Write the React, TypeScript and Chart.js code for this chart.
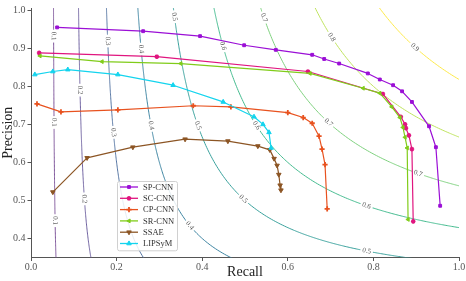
import React, { useEffect, useRef } from 'react';
import { Chart, registerables } from 'chart.js';
import { drawPoint } from 'chart.js/helpers';

Chart.register(...registerables);

// ---------- data ----------
const SERIES_NAMES = ['SP-CNN', 'SC-CNN', 'CP-CNN', 'SR-CNN', 'SSAE', 'LIPSyM'];

const SP_CNN_RECALL = [0.061, 0.262, 0.395, 0.498, 0.572, 0.657, 0.685, 0.720, 0.787, 0.815, 0.846, 0.867, 0.890, 0.930, 0.946, 0.956];
const SP_CNN_PRECISION = [0.955, 0.945, 0.932, 0.908, 0.896, 0.883, 0.872, 0.860, 0.834, 0.818, 0.803, 0.787, 0.759, 0.695, 0.640, 0.486];

const SC_CNN_RECALL = [0.019, 0.294, 0.647, 0.822, 0.864, 0.874, 0.876, 0.883, 0.890, 0.893];
const SC_CNN_PRECISION = [0.888, 0.878, 0.839, 0.780, 0.720, 0.700, 0.690, 0.671, 0.635, 0.445];

const CP_CNN_RECALL = [0.014, 0.070, 0.203, 0.379, 0.467, 0.600, 0.636, 0.657, 0.673, 0.680, 0.687, 0.692];
const CP_CNN_PRECISION = [0.754, 0.733, 0.738, 0.749, 0.746, 0.731, 0.718, 0.703, 0.669, 0.635, 0.594, 0.478];

const SR_CNN_RECALL = [0.021, 0.166, 0.350, 0.652, 0.776, 0.815, 0.843, 0.862, 0.869, 0.874, 0.879, 0.881];
const SR_CNN_PRECISION = [0.880, 0.865, 0.860, 0.834, 0.795, 0.782, 0.746, 0.718, 0.692, 0.666, 0.638, 0.450];

const SSAE_RECALL = [0.051, 0.131, 0.238, 0.360, 0.460, 0.530, 0.558, 0.568, 0.575, 0.579, 0.582, 0.584];
const SSAE_PRECISION = [0.522, 0.612, 0.640, 0.661, 0.656, 0.643, 0.633, 0.610, 0.592, 0.568, 0.540, 0.527];

const LIPSYM_RECALL = [0.009, 0.051, 0.086, 0.203, 0.332, 0.449, 0.521, 0.542, 0.556, 0.561];
const LIPSYM_PRECISION = [0.831, 0.839, 0.844, 0.831, 0.803, 0.759, 0.720, 0.700, 0.679, 0.638];

const X_TICKS = [0.0, 0.2, 0.4, 0.6, 0.8, 1.0];
const Y_TICKS = [0.4, 0.5, 0.6, 0.7, 0.8, 0.9, 1.0];

// iso-F1 levels and where their inline labels sit (given by precision)
const F_LEVELS = [0.1, 0.2, 0.3, 0.4, 0.5, 0.6, 0.7, 0.8, 0.9];
const F_LABEL_PRECISIONS = [
  [0.932, 0.705, 0.447],
  [0.79, 0.504],
  [0.919, 0.679],
  [0.898, 0.697, 0.434],
  [0.983, 0.697, 0.504, 0.367],
  [0.906, 0.697, 0.486],
  [0.981, 0.705, 0.571],
  [0.929],
  [0.903],
];

// ---------- styles ----------
const SERIES_COLORS = ['#9b0fd6', '#e0157f', '#e8521f', '#80cc1a', '#8c5524', '#14d4ee'];
const SERIES_MARKERS = ['rect', 'star', 'cross', 'triangle', 'triangle', 'triangle'];
const SERIES_MARKER_ROT = [0, 0, 0, 270, 180, 0];
const SERIES_MARKER_R = [2, 2.3, 2.6, 2.2, 2.6, 2.6];
const CONTOUR_COLORS = [
  '#7e559a',
  '#6f62a0',
  '#5676a3',
  '#3f85a2',
  '#3aa19c',
  '#45bb8f',
  '#7fd17f',
  '#bfe35f',
  '#fde94a',
];

const SERIF = '"Liberation Serif", "DejaVu Serif", serif';
const X_MIN = 0, X_MAX = 1.0, Y_MIN = 0.35, Y_MAX = 1.006;

// iso-F1 curve, thinned so neighbouring samples are a few pixels apart
function contourPoints(f: number) {
  const pts: { x: number; y: number }[] = [];
  const N = 2000;
  const pTop = 1.02, pBot = 0.33;
  let last: { x: number; y: number } | null = null;
  for (let k = 0; k <= N; k++) {
    const p = pTop - (k * (pTop - pBot)) / N;
    if (2 * p - f <= 0) break;
    const r = (f * p) / (2 * p - f);
    const pt = { x: r, y: p };
    const done = r > 1.02;
    if (!last || done || Math.hypot((r - last.x) * 430, (p - last.y) * 390) >= 4) {
      pts.push(pt);
      last = pt;
    }
    if (done) break;
  }
  return pts;
}

const contourLabelPlugin = {
  id: 'contourLabels',
  afterDatasetDraw(chart: any, args: any) {
    const ds = chart.data.datasets[args.index];
    if (ds.fLevel === undefined) return;
    const f = ds.fLevel as number;
    const xs = chart.scales.x, ys = chart.scales.y;
    const ctx = chart.ctx as CanvasRenderingContext2D;
    const area = chart.chartArea;
    ctx.save();
    ctx.font = `7px ${SERIF}`;
    ctx.textAlign = 'center';
    ctx.textBaseline = 'middle';
    for (const p of ds.labelPrecisions as number[]) {
      const r = (f * p) / (2 * p - f);
      const px = xs.getPixelForValue(r), py = ys.getPixelForValue(p);
      if (px < area.left || px > area.right || py < area.top || py > area.bottom) continue;
      const dr = 0.002;
      const p2 = (f * (r + dr)) / (2 * (r + dr) - f);
      const qx = xs.getPixelForValue(r + dr), qy = ys.getPixelForValue(p2);
      let ang = Math.atan2(qy - py, qx - px);
      if (ang > Math.PI / 2) ang -= Math.PI;
      if (ang < -Math.PI / 2) ang += Math.PI;
      const txt = f.toFixed(1);
      const w = ctx.measureText(txt).width;
      ctx.save();
      ctx.translate(px, py);
      ctx.rotate(ang);
      ctx.fillStyle = '#ffffff';
      ctx.fillRect(-w / 2 - 2, -3, w + 4, 6);
      ctx.fillStyle = '#555555';
      ctx.fillText(txt, 0, 0);
      ctx.restore();
    }
    ctx.restore();
  },
};

const legendPlugin = {
  id: 'customLegend',
  afterDraw(chart: any) {
    const ctx = chart.ctx as CanvasRenderingContext2D;
    const series = chart.data.datasets.filter((d: any) => d.isSeries);
    const left = 117, top = 181, width = 60, rowH = 11.3;
    const height = series.length * rowH + 1.5;
    ctx.save();
    ctx.beginPath();
    (ctx as any).roundRect(left + 0.5, top + 0.5, width, height, 2);
    ctx.fillStyle = 'rgba(255,255,255,0.85)';
    ctx.fill();
    ctx.strokeStyle = '#d0d0d0';
    ctx.lineWidth = 1;
    ctx.stroke();
    ctx.font = `8.5px ${SERIF}`;
    ctx.textAlign = 'left';
    ctx.textBaseline = 'middle';
    series.forEach((d: any, i: number) => {
      const cy = top + 6 + i * rowH;
      ctx.strokeStyle = d.borderColor;
      ctx.lineWidth = 1.3;
      ctx.beginPath();
      ctx.moveTo(left + 3, cy);
      ctx.lineTo(left + 21, cy);
      ctx.stroke();
      ctx.fillStyle = d.pointBackgroundColor;
      ctx.strokeStyle = d.pointBorderColor;
      ctx.lineWidth = d.pointBorderWidth;
      drawPoint(ctx, { pointStyle: d.pointStyle, rotation: d.pointRotation, radius: d.pointRadius, borderWidth: d.pointBorderWidth }, left + 12, cy);
      ctx.fillStyle = '#333333';
      ctx.fillText(d.label, left + 26, cy + 0.5);
    });
    ctx.restore();
  },
};

export default function App() {
  const ref = useRef<HTMLCanvasElement>(null);

  useEffect(() => {
    if (!ref.current) return;
    const recalls = [SP_CNN_RECALL, SC_CNN_RECALL, CP_CNN_RECALL, SR_CNN_RECALL, SSAE_RECALL, LIPSYM_RECALL];
    const precisions = [SP_CNN_PRECISION, SC_CNN_PRECISION, CP_CNN_PRECISION, SR_CNN_PRECISION, SSAE_PRECISION, LIPSYM_PRECISION];

    const contourSets = F_LEVELS.map((f, i) => ({
      label: `F=${f}`,
      data: contourPoints(f),
      borderColor: CONTOUR_COLORS[i],
      borderWidth: 1,
      borderJoinStyle: 'round',
      tension: 0.2,
      pointRadius: 0,
      showLine: true,
      fill: false,
      order: 20,
      fLevel: f,
      labelPrecisions: F_LABEL_PRECISIONS[i],
    }));

    const seriesSets = SERIES_NAMES.map((name, i) => ({
      label: name,
      data: recalls[i].map((r, k) => ({ x: r, y: precisions[i][k] })),
      borderColor: SERIES_COLORS[i],
      backgroundColor: SERIES_COLORS[i],
      pointBackgroundColor: SERIES_COLORS[i],
      pointBorderColor: SERIES_COLORS[i],
      pointStyle: SERIES_MARKERS[i],
      pointRotation: SERIES_MARKER_ROT[i],
      pointRadius: SERIES_MARKER_R[i],
      pointBorderWidth: SERIES_MARKERS[i] === 'cross' ? 1.8 : SERIES_MARKERS[i] === 'star' ? 1.4 : 1,
      borderWidth: 1.2,
      borderJoinStyle: 'round',
      showLine: true,
      fill: false,
      order: 10 - i,
      isSeries: true,
    }));

    const chart = new Chart(ref.current, {
      type: 'scatter',
      data: { datasets: [...contourSets, ...seriesSets] as any },
      options: {
        animation: false,
        responsive: false,
        maintainAspectRatio: false,
        events: [],
        layout: { padding: { top: 3, right: 7, left: 0, bottom: 0 } },
        plugins: {
          legend: { display: false },
          tooltip: { enabled: false },
          title: { display: false },
        },
        scales: {
          x: {
            type: 'linear',
            min: X_MIN,
            max: X_MAX,
            afterBuildTicks: (s: any) => { s.ticks = X_TICKS.map((v) => ({ value: v })); },
            afterFit: (s: any) => { s.height = 23.5; },
            ticks: {
              padding: 0,
              color: '#555555',
              font: { family: SERIF, size: 10 },
              callback: (v: any) => Number(v).toFixed(1),
            },
            grid: { display: true, drawOnChartArea: false, drawTicks: true, tickLength: 3.5, color: '#555555' },
            border: { display: true, color: '#555555', width: 1 },
            title: { display: true, text: 'Recall', color: '#222222', font: { family: SERIF, size: 14 }, padding: { top: 0, bottom: 0 } },
          },
          y: {
            type: 'linear',
            min: Y_MIN,
            max: Y_MAX,
            afterBuildTicks: (s: any) => { s.ticks = Y_TICKS.map((v) => ({ value: v })); },
            afterFit: (s: any) => { s.width = 31; },
            ticks: {
              padding: 2,
              color: '#555555',
              font: { family: SERIF, size: 10 },
              callback: (v: any) => Number(v).toFixed(1),
            },
            grid: { display: true, drawOnChartArea: false, drawTicks: true, tickLength: 3.5, color: '#555555' },
            border: { display: true, color: '#555555', width: 1 },
            title: { display: true, text: 'Precision', color: '#222222', font: { family: SERIF, size: 14 }, padding: { top: 0, bottom: 0 } },
          },
        },
      },
      plugins: [contourLabelPlugin, legendPlugin],
    });
    return () => chart.destroy();
  }, []);

  return (
    <div style={{ position: 'fixed', left: 0, top: 0, width: 466, height: 281, background: '#ffffff' }}>
      <canvas ref={ref} width={466} height={281} style={{ width: 466, height: 281, display: 'block' }} />
    </div>
  );
}
